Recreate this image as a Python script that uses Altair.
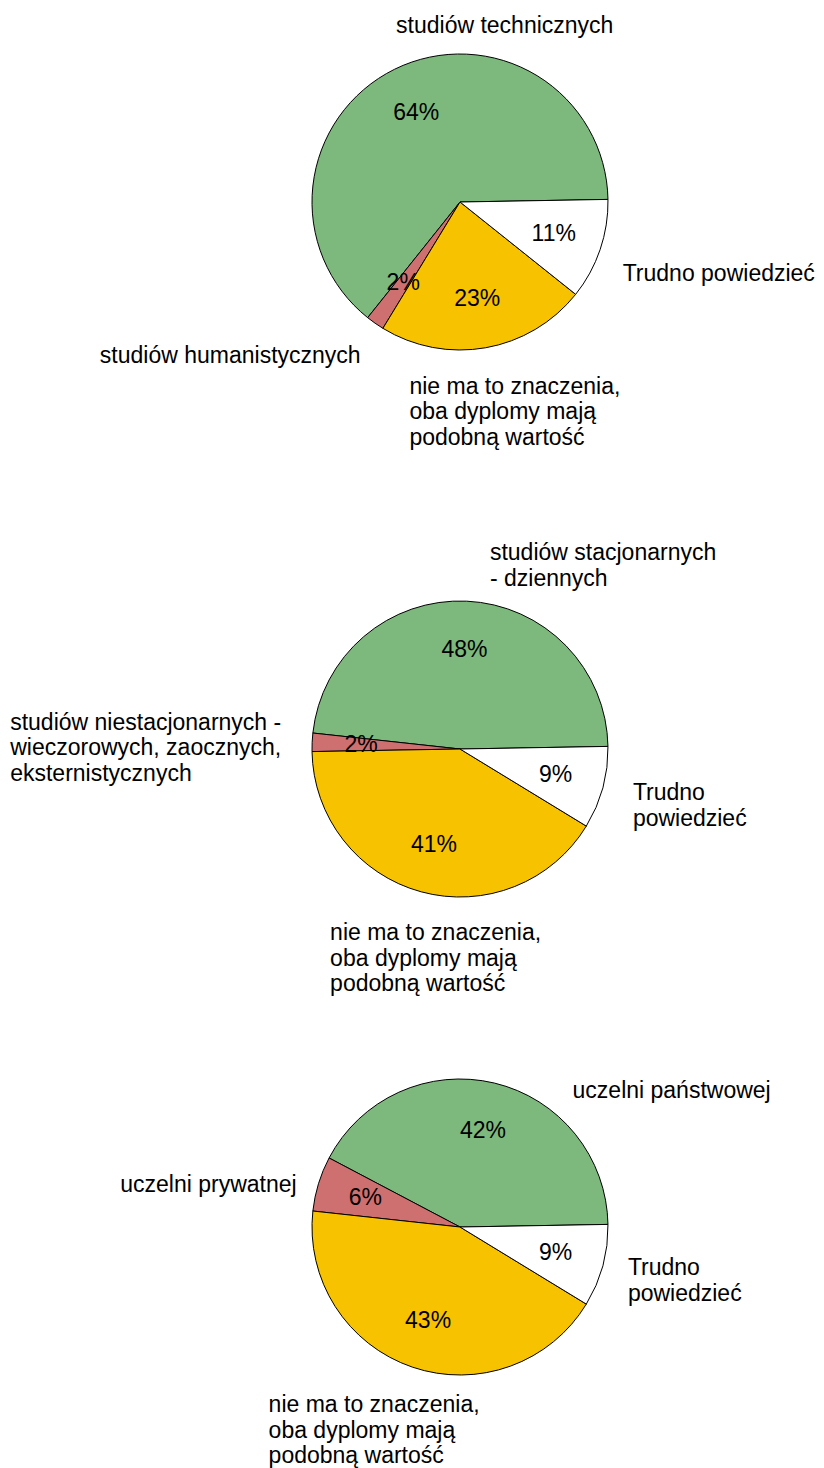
import math
import altair as alt
import pandas as pd

# ---- data ----
typ = ["tak_a", "tak_b", "bez_znaczenia", "trudno"]
kolejnosc = [3, 2, 1, 0]          # clockwise order of slices from the start angle
kolory = ["#7DB87D", "#CF7070", "#F7C200", "#FFFFFF"]

etykiety1 = ["studiów technicznych", "studiów humanistycznych",
             "nie ma to znaczenia,\noba dyplomy mają\npodobną wartość", "Trudno powiedzieć"]
wartosci1 = [64, 2, 23, 11]

etykiety2 = ["studiów stacjonarnych\n- dziennych",
             "studiów niestacjonarnych -\nwieczorowych, zaocznych,\neksternistycznych",
             "nie ma to znaczenia,\noba dyplomy mają\npodobną wartość", "Trudno\npowiedzieć"]
wartosci2 = [48, 2, 41, 9]

etykiety3 = ["uczelni państwowej", "uczelni prywatnej",
             "nie ma to znaczenia,\noba dyplomy mają\npodobną wartość", "Trudno\npowiedzieć"]
wartosci3 = [42, 6, 43, 9]

# ---- style / layout ----
FONT = "Liberation Sans"
FS = 23
LH = 25.5
R = 148
START = math.radians(89)
W, H = 808, 1460
centers = [(452, 194), (452, 741), (452, 1219)]
# per-label placement: (align, dx, dy) relative to point at radius 175 on slice mid-angle
label_style = [
    [("center", 122, -19), ("right", 1, 11), ("left", -81, 38), ("left", -3, 16)],
    [("left", 22, -8), ("left", -275, 7), ("left", -84, 41), ("left", 4, 11)],
    [("left", 72, 34), ("right", 4, 9), ("left", -135, 38), ("left", -1, 8)],
]

theta_scale = alt.Scale(domain=[0, 100], range=[START, START + 2 * math.pi])
color_scale = alt.Scale(domain=typ, range=kolory)

layers = []
for p, (etyk, wart) in enumerate([(etykiety1, wartosci1), (etykiety2, wartosci2), (etykiety3, wartosci3)]):
    df = pd.DataFrame({"typ": typ, "etykieta": etyk, "pct": wart, "ord": kolejnosc})
    cx, cy = centers[p]
    base = alt.Chart(df).transform_window(
        koniec="sum(pct)", sort=[alt.SortField("ord")], frame=[None, 0]
    ).transform_calculate(
        poczatek="datum.koniec - datum.pct",
        srodek="datum.koniec - datum.pct / 2",
        tekst="datum.pct + '%'",
    )
    arc = base.mark_arc(outerRadius=R, stroke="black", strokeWidth=1).encode(
        theta=alt.Theta("poczatek:Q", scale=theta_scale, stack=None),
        theta2="koniec:Q",
        color=alt.Color("typ:N", scale=color_scale, legend=None),
        x=alt.value(cx), y=alt.value(cy),
    )
    pct = base.mark_text(radius=99, font=FONT, fontSize=FS, color="black",
                         align="center", baseline="middle").encode(
        theta=alt.Theta("srodek:Q", scale=theta_scale, stack=None),
        text="tekst:N",
        x=alt.value(cx), y=alt.value(cy),
    )
    layers += [arc, pct]
    for i, t in enumerate(typ):
        al, dx, dy = label_style[p][i]
        extra_lines = etyk[i].count("\n")
        lab = base.transform_filter(alt.datum.typ == t).mark_text(
            radius=175, font=FONT, fontSize=FS, color="black", align=al,
            baseline="middle", lineBreak="\n", lineHeight=LH,
            dx=dx, dy=dy - extra_lines * LH / 2,
        ).encode(
            theta=alt.Theta("srodek:Q", scale=theta_scale, stack=None),
            text="etykieta:N",
            x=alt.value(cx), y=alt.value(cy),
        )
        layers.append(lab)

chart = alt.layer(*layers).properties(
    width=W, height=H, padding=0,
    autosize=alt.AutoSizeParams(type="none"),
    background="white",
).configure_view(stroke=None)

chart.save("out.html", embed_options={"renderer": "svg", "actions": False})
